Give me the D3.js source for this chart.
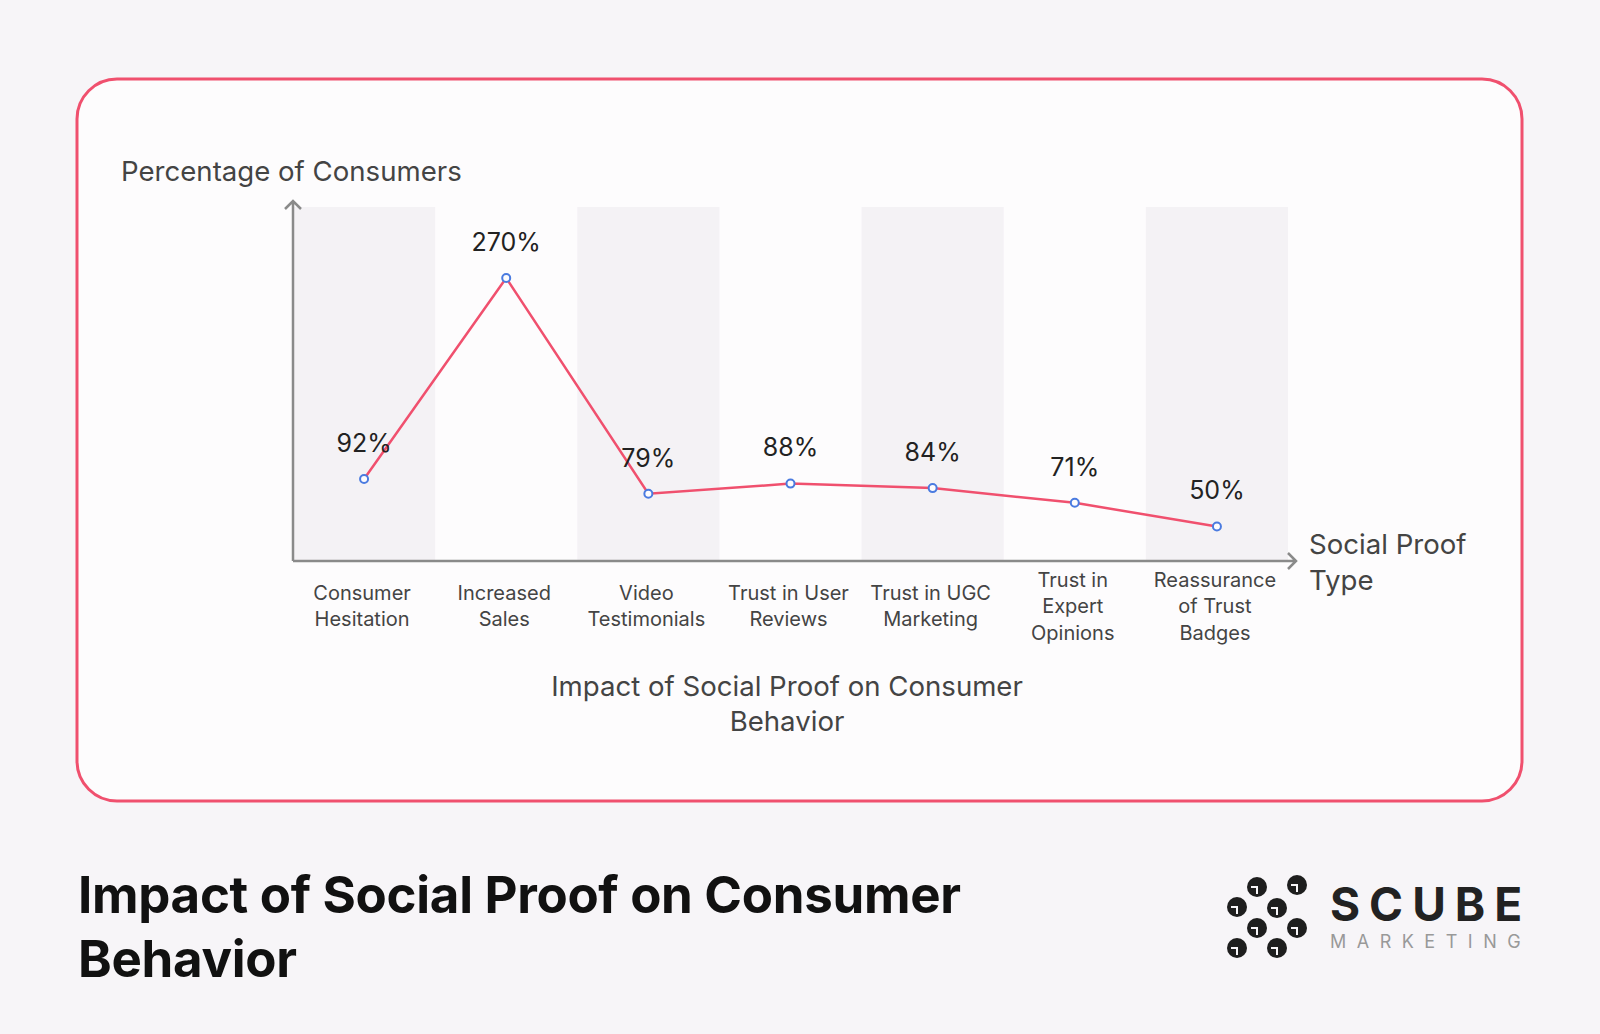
<!DOCTYPE html>
<html><head><meta charset="utf-8">
<script src="https://cdn.jsdelivr.net/npm/d3@7"></script>
<style>body{margin:0;background:#f7f5f8;}svg{display:block;font-family:Inter,Roboto,"Noto Sans",sans-serif;}</style>
</head><body>
<svg id="c" width="1600" height="1034"></svg>
<script>
const categories = [["Consumer","Hesitation"],["Increased","Sales"],["Video","Testimonials"],["Trust in User","Reviews"],["Trust in UGC","Marketing"],["Trust in","Expert","Opinions"],["Reassurance","of Trust","Badges"]];
const values = [92,270,79,88,84,71,50];
const valueLabels = ["92%","270%","79%","88%","84%","71%","50%"];

const svg = d3.select("#c");
svg.append("rect").attr("width",1600).attr("height",1034).attr("fill","#f7f5f8");
svg.append("rect").attr("x",77).attr("y",79).attr("width",1445).attr("height",722).attr("rx",40)
  .attr("fill","#fdfcfd").attr("stroke","#f0506e").attr("stroke-width",3);

const x = d3.scaleBand().domain(d3.range(values.length)).range([293,1288]).padding(0);
const y = d3.scaleLinear().domain([0,270]).range([583,278]);

svg.selectAll(".band").data(d3.range(values.length).filter(i=>i%2===0)).enter().append("rect")
  .attr("x",i=>x(i)).attr("y",207).attr("width",x.bandwidth()).attr("height",561-207).attr("fill","#f4f2f5");

const ax = svg.append("g").attr("stroke","#8a8a8a").attr("stroke-width",2.5).attr("fill","none");
ax.append("path").attr("d","M293,561 V201 M285,209 L293,201 L301,209");
ax.append("path").attr("d","M293,561 H1296 M1288,553 L1296,561 L1288,569");

const line = d3.line().x((d,i)=>x(i)+x.bandwidth()/2).y(d=>y(d));
svg.append("path").datum(values).attr("d",line).attr("fill","none").attr("stroke","#f0506e").attr("stroke-width",2.5);
svg.selectAll(".pt").data(values).enter().append("circle")
  .attr("cx",(d,i)=>x(i)+x.bandwidth()/2).attr("cy",d=>y(d)).attr("r",4)
  .attr("fill","#fdfcfd").attr("stroke","#4a7be0").attr("stroke-width",2);
svg.selectAll(".vl").data(values).enter().append("text")
  .attr("x",(d,i)=>x(i)+x.bandwidth()/2).attr("y",d=>y(d)-36).attr("dy","0.35em")
  .attr("text-anchor","middle").attr("font-size",25).attr("fill","#222").text((d,i)=>valueLabels[i]);

categories.forEach((lines,i)=>{
  const t = svg.append("text").attr("text-anchor","middle").attr("font-size",20).attr("fill","#444");
  const y0 = 606 - (lines.length-1)*26.5/2;
  lines.forEach((l,j)=>t.append("tspan").attr("x",x(i)+x.bandwidth()/2-2).attr("y",y0+j*26.5).attr("dy","0.35em").text(l));
});

svg.append("text").attr("x",121).attr("y",171).attr("dy","0.35em").attr("font-size",27.6).attr("fill","#444").text("Percentage of Consumers");
const st = svg.append("text").attr("font-size",27.6).attr("fill","#444");
st.append("tspan").attr("x",1309).attr("y",544).attr("dy","0.35em").text("Social Proof");
st.append("tspan").attr("x",1309).attr("y",580).attr("dy","0.35em").text("Type");
const sub = svg.append("text").attr("font-size",27.6).attr("fill","#444").attr("text-anchor","middle");
sub.append("tspan").attr("x",787).attr("y",686).attr("dy","0.35em").text("Impact of Social Proof on Consumer");
sub.append("tspan").attr("x",787).attr("y",721).attr("dy","0.35em").text("Behavior");

const tt = svg.append("text").attr("font-size",51).attr("font-weight",700).attr("fill","#111").attr("letter-spacing",-0.3);
tt.append("tspan").attr("x",78).attr("y",895).attr("dy","0.35em").text("Impact of Social Proof on Consumer");
tt.append("tspan").attr("x",78).attr("y",959).attr("dy","0.35em").text("Behavior");

const dots = [[1257,887],[1297,885],[1237,907],[1277,908],[1257,928],[1297,928],[1237,948],[1277,948]];
svg.selectAll(".dot").data(dots).enter().append("circle").attr("cx",d=>d[0]).attr("cy",d=>d[1]).attr("r",10).attr("fill","#1e1e1e");
svg.selectAll(".dl").data(dots).enter().append("path")
  .attr("d",d=>`M${d[0]-6},${d[1]} H${d[0]} V${d[1]+7}`).attr("stroke","#f7f5f8").attr("stroke-width",2).attr("fill","none");
svg.append("text").attr("x",1330).attr("y",905).attr("dy","0.35em").attr("font-size",46).attr("font-weight",700)
  .attr("letter-spacing",9).attr("fill","#222").text("SCUBE");
svg.append("text").attr("x",1330).attr("y",942).attr("dy","0.35em").attr("font-size",18)
  .attr("letter-spacing",10.5).attr("fill","#999").text("MARKETING");
</script>
</body></html>
